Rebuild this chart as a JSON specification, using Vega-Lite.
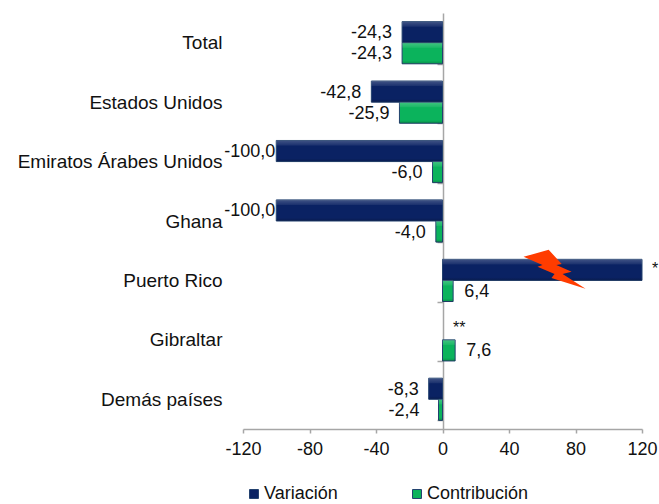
{
  "$schema": "https://vega.github.io/schema/vega-lite/v6.json",
  "width": 399,
  "height": 416,
  "padding": {"left": 243, "top": 13, "right": 17, "bottom": 75},
  "autosize": {"type": "none"},
  "background": "white",
  "config": {"view": {"stroke": null}, "font": "Liberation Sans"},
  "datasets": {
    "barras": [
      {"categoria": "Total", "serie": "Variación", "valor": -24.3, "etiqueta": "-24,3"},
      {"categoria": "Total", "serie": "Contribución", "valor": -24.3, "etiqueta": "-24,3"},
      {"categoria": "Estados Unidos", "serie": "Variación", "valor": -42.8, "etiqueta": "-42,8"},
      {"categoria": "Estados Unidos", "serie": "Contribución", "valor": -25.9, "etiqueta": "-25,9"},
      {"categoria": "Emiratos Árabes Unidos", "serie": "Variación", "valor": -100, "etiqueta": "-100,0"},
      {"categoria": "Emiratos Árabes Unidos", "serie": "Contribución", "valor": -6, "etiqueta": "-6,0"},
      {"categoria": "Ghana", "serie": "Variación", "valor": -100, "etiqueta": "-100,0"},
      {"categoria": "Ghana", "serie": "Contribución", "valor": -4, "etiqueta": "-4,0"},
      {"categoria": "Puerto Rico", "serie": "Variación", "valor": 120},
      {"categoria": "Puerto Rico", "serie": "Contribución", "valor": 6.4, "etiqueta": "6,4"},
      {"categoria": "Gibraltar", "serie": "Contribución", "valor": 7.6, "etiqueta": "7,6"},
      {"categoria": "Demás países", "serie": "Variación", "valor": -8.3, "etiqueta": "-8,3"},
      {"categoria": "Demás países", "serie": "Contribución", "valor": -2.4, "etiqueta": "-2,4"}
    ],
    "notas": [
      {"categoria": "Puerto Rico", "serie": "Variación", "valor": 120, "nota": "*", "desplazada": true},
      {"categoria": "Gibraltar", "serie": "Variación", "valor": 10, "nota": "**", "desplazada": false}
    ],
    "rayo": [
      {"categoria": "Puerto Rico", "serie": "Variación", "valor": 67.4}
    ]
  },
  "encoding": {
    "y": {
      "field": "categoria",
      "type": "nominal",
      "sort": ["Total", "Estados Unidos", "Emiratos Árabes Unidos", "Ghana", "Puerto Rico", "Gibraltar", "Demás países"],
      "scale": {"domain": ["Total", "Estados Unidos", "Emiratos Árabes Unidos", "Ghana", "Puerto Rico", "Gibraltar", "Demás países"], "paddingInner": 0.29, "paddingOuter": 0.145},
      "axis": {
        "title": null,
        "orient": "left",
        "offset": -200,
        "domainColor": "#a6a6a6",
        "domainWidth": 1.5,
        "tickColor": "#a6a6a6",
        "tickWidth": 1.5,
        "tickSize": 6,
        "tickBand": "extent",
        "labelPadding": 215,
        "labelFontSize": 19,
        "labelColor": "#111111",
        "labelLimit": 300
      }
    },
    "yOffset": {"field": "serie", "type": "nominal", "scale": {"domain": ["Variación", "Contribución"]}},
    "x": {
      "field": "valor",
      "type": "quantitative",
      "scale": {"domain": [-120, 120], "nice": false},
      "axis": {
        "title": null,
        "values": [-120, -80, -40, 0, 40, 80, 120],
        "grid": false,
        "domainColor": "#a6a6a6",
        "domainWidth": 1.5,
        "tickColor": "#a6a6a6",
        "tickWidth": 1.5,
        "tickSize": 4,
        "labelPadding": 7,
        "labelFontSize": 18,
        "labelColor": "#111111",
        "labelFlush": false,
        "labelExpr": "replace(datum.label, '−', '-')"
      }
    }
  },
  "layer": [
    {
      "data": {"name": "barras"},
      "mark": {"type": "bar", "strokeWidth": 1, "stroke": "#22406e"},
      "encoding": {
        "color": {
          "field": "serie",
          "type": "nominal",
          "scale": {"domain": ["Variación", "Contribución"], "range": ["#0a2263", "#0bb35c"]},
          "legend": {
            "title": null,
            "orient": "none",
            "legendX": 2,
            "legendY": 472,
            "direction": "horizontal",
            "columns": 2,
            "columnPadding": 70,
            "symbolType": "square",
            "symbolSize": 80,
            "symbolStrokeColor": "#22406e",
            "symbolStrokeWidth": 1,
            "labelFontSize": 18,
            "labelColor": "#111111",
            "labelOffset": 1
          }
        }
      }
    },
    {
      "data": {"name": "barras"},
      "mark": {
        "type": "bar",
        "fill": {
          "gradient": "linear",
          "x1": 0, "y1": 0, "x2": 0, "y2": 1,
          "stops": [
            {"offset": 0, "color": "rgba(255,255,255,0.22)"},
            {"offset": 0.22, "color": "rgba(255,255,255,0.08)"},
            {"offset": 0.26, "color": "rgba(255,255,255,0)"},
            {"offset": 0.85, "color": "rgba(0,0,0,0)"},
            {"offset": 1, "color": "rgba(0,0,0,0.2)"}
          ]
        }
      }
    },
    {
      "data": {"name": "barras"},
      "transform": [{"filter": "datum.valor < 0 && datum.valor > -100 && datum.etiqueta !== '-2,4'"}],
      "mark": {"type": "text", "align": "right", "baseline": "middle", "dx": -10, "dy": 1, "fontSize": 18, "color": "#111111"},
      "encoding": {"text": {"field": "etiqueta"}}
    },
    {
      "data": {"name": "barras"},
      "transform": [{"filter": "datum.valor <= -100"}],
      "mark": {"type": "text", "align": "right", "baseline": "middle", "dx": -1, "dy": 1, "fontSize": 18, "color": "#111111"},
      "encoding": {"text": {"field": "etiqueta"}}
    },
    {
      "data": {"name": "barras"},
      "transform": [{"filter": "datum.etiqueta === '-2,4'"}],
      "mark": {"type": "text", "align": "right", "baseline": "middle", "dx": -19, "dy": 1, "fontSize": 18, "color": "#111111"},
      "encoding": {"text": {"field": "etiqueta"}}
    },
    {
      "data": {"name": "barras"},
      "transform": [{"filter": "datum.valor > 0 && datum.etiqueta"}],
      "mark": {"type": "text", "align": "left", "baseline": "middle", "dx": 11, "dy": 1, "fontSize": 18, "color": "#111111"},
      "encoding": {"text": {"field": "etiqueta"}}
    },
    {
      "data": {"name": "notas"},
      "transform": [{"filter": "!datum.desplazada"}],
      "mark": {"type": "text", "align": "center", "baseline": "middle", "dy": -1, "fontSize": 16, "color": "#111111"},
      "encoding": {"text": {"field": "nota"}}
    },
    {
      "data": {"name": "notas"},
      "transform": [{"filter": "datum.desplazada"}],
      "mark": {"type": "text", "align": "center", "baseline": "middle", "dx": 13, "dy": -1, "fontSize": 16, "color": "#111111"},
      "encoding": {"text": {"field": "nota"}}
    },
    {
      "data": {"name": "rayo"},
      "mark": {
        "type": "point",
        "filled": true,
        "opacity": 1,
        "color": "#ff3c00",
        "size": 3844,
        "dy": -2,
        "shape": "M-1,-0.42L-0.19,-0.65L0.23,-0.19L0.06,-0.16L0.55,0.06L0.26,0.13L1,0.61L-0.1,0.26L0,0.13L-0.55,-0.1L-0.39,-0.16Z"
      }
    }
  ]
}
